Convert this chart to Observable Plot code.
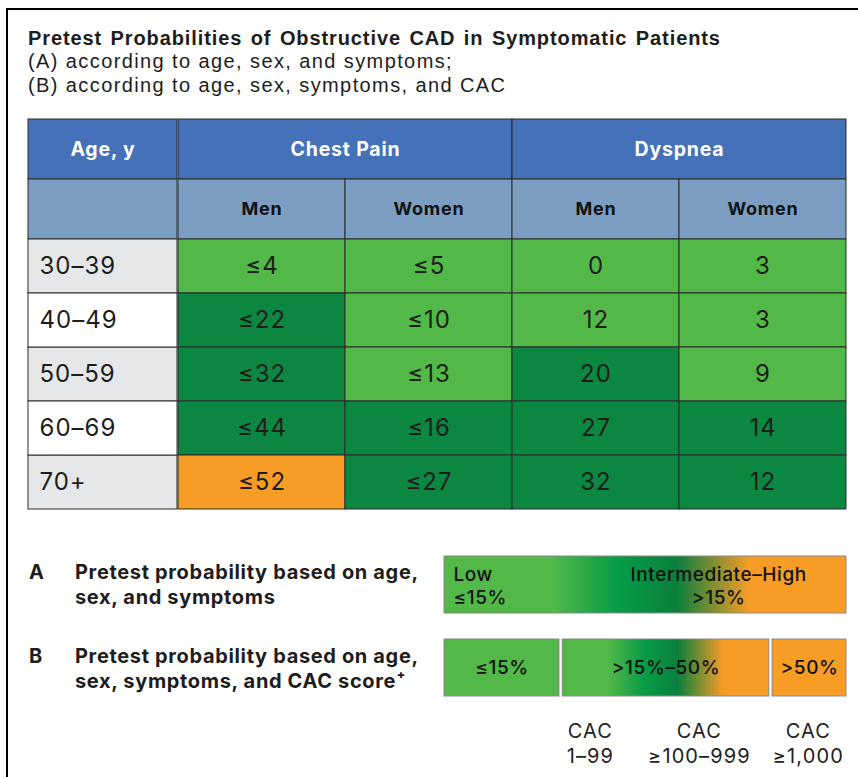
<!DOCTYPE html>
<html><head><meta charset="utf-8">
<script src="https://cdn.jsdelivr.net/npm/d3@7"></script>
<script src="https://cdn.jsdelivr.net/npm/@observablehq/plot@0.6"></script>
<style>
body{margin:0;background:#fff;}
#root{position:relative;width:858px;height:777px;overflow:hidden;background:#fff;color:#1d1d1b;font-family:Inter,sans-serif;}
.abs{position:absolute;}
#frame{left:6px;top:8px;width:860px;height:780px;border-left:2px solid #000;border-top:2px solid #000;}
#title{left:28px;top:26px;font:700 20px "Liberation Sans";letter-spacing:0.9px;word-spacing:2px;line-height:24px;white-space:nowrap;}
#subtitle{left:28px;top:49px;font:400 20px "Liberation Sans";letter-spacing:1.4px;line-height:24px;white-space:nowrap;}
.lg{font:700 20px Inter;letter-spacing:0.65px;line-height:25px;white-space:nowrap;}
svg{overflow:visible;}
</style></head><body><div id="root"></div>
<script>
// ---------- data ----------
const ages = ["30–39", "40–49", "50–59", "60–69", "70+"];
const groups = ["Chest Pain", "Dyspnea"];
const sexes = ["Men", "Women"];
const ageHeader = "Age, y";
const chestPainMen = [4, 22, 32, 44, 52];
const chestPainWomen = [5, 10, 13, 16, 27];
const dyspneaMen = [0, 12, 20, 27, 32];
const dyspneaWomen = [3, 3, 9, 14, 12];
const chestPainMenRisk = ["Low", "Intermediate", "Intermediate", "Intermediate", "High"];
const chestPainWomenRisk = ["Low", "Low", "Low", "Intermediate", "Intermediate"];
const dyspneaMenRisk = ["Low", "Low", "Intermediate", "Intermediate", "Intermediate"];
const dyspneaWomenRisk = ["Low", "Low", "Low", "Intermediate", "Intermediate"];
const groupPrefix = ["≤", ""];
const riskLevels = ["Low", "Intermediate", "High"];
const legendRows = ["A", "B"];
const legendRowTexts = ["Pretest probability based on age,<br>sex, and symptoms", "Pretest probability based on age,<br>sex, symptoms, and CAC score⁺"];
const legendALabels = ["Low\n≤15%", "Intermediate–High\n>15%"];
const legendBLabels = ["≤15%", ">15%–50%", ">50%"];
const cacLabels = ["CAC\n1–99", "CAC\n≥100–999", "CAC\n≥1,000"];

const titleText = "Pretest Probabilities of Obstructive CAD in Symptomatic Patients";
const subtitleLines = ["(A) according to age, sex, and symptoms;", "(B) according to age, sex, symptoms, and CAC"];

// ---------- style ----------
const BLUE = "#4571b8", LIGHTBLUE = "#7b9dc1", GREY = "#e6e7e8", WHITE = "#ffffff";
const LG = "#52b848", DG = "#0c8742", OR = "#f79d26", LINE = "#2b2b2b";
const FONT = "Inter, sans-serif";
const layout = {
  tableLeft: 28, ageWidth: 149, valWidth: 669, headTop: 119, headHeight: 120, bodyTop: 239, bodyHeight: 270,
  legendLeft: 444, legendTop: 556, legendWidth: 402, legendBarsHeight: 141,
  segB: [[0, 28.6], [29.4, 80.8], [81.6, 100]], labelAX: [0, 68.2], cacX: [36.3, 63.4, 90.5]
};

const series = [
  {group: groups[0], sex: sexes[0], values: chestPainMen, risk: chestPainMenRisk, prefix: groupPrefix[0]},
  {group: groups[0], sex: sexes[1], values: chestPainWomen, risk: chestPainWomenRisk, prefix: groupPrefix[0]},
  {group: groups[1], sex: sexes[0], values: dyspneaMen, risk: dyspneaMenRisk, prefix: groupPrefix[1]},
  {group: groups[1], sex: sexes[1], values: dyspneaWomen, risk: dyspneaWomenRisk, prefix: groupPrefix[1]}
];
const body = series.flatMap(s => s.values.map((v, i) => ({group: s.group, sex: s.sex, age: ages[i], risk: s.risk[i], label: s.prefix + v})));
const subHeads = series.map(s => ({group: s.group, sex: s.sex}));

const root = document.getElementById("root");
function place(el, left, top) { el.style.position = "absolute"; el.style.left = left + "px"; el.style.top = top + "px"; root.appendChild(el); return el; }
function div(cls, html, left, top) { const d = document.createElement("div"); d.className = "abs " + cls; d.innerHTML = html; return place(d, left, top); }

const frame = document.createElement("div"); frame.id = "frame"; frame.className = "abs"; root.appendChild(frame);
const t = document.createElement("div"); t.id = "title"; t.className = "abs"; t.textContent = titleText; root.appendChild(t);
const st = document.createElement("div"); st.id = "subtitle"; st.className = "abs"; st.innerHTML = subtitleLines.join("<br>"); root.appendChild(st);

const base = {margin: 0, style: {fontFamily: FONT, overflow: "visible", background: "transparent"}};
const headStyle = {...base.style, letterSpacing: "0.8px"};
const bodyStyle = {...base.style, letterSpacing: "1px"};

// Age header
place(Plot.plot({...base, style: headStyle, width: layout.ageWidth, height: layout.headHeight,
  y: {domain: ["h1", "h2"], axis: null, padding: 0},
  marks: [
    Plot.cell(["h1"], {y: d => d, fill: BLUE, stroke: LINE, strokeWidth: 1}),
    Plot.cell(["h2"], {y: d => d, fill: LIGHTBLUE, stroke: LINE, strokeWidth: 1}),
    Plot.text([ageHeader], {y: () => "h1", text: d => d, fill: "#fff", fontWeight: 700, fontSize: 19.5})
  ]}), layout.tableLeft, layout.headTop);

// Group header
place(Plot.plot({...base, style: headStyle, width: layout.valWidth, height: layout.headHeight,
  fx: {domain: groups, axis: null, padding: 0},
  x: {domain: sexes, axis: null, padding: 0},
  y: {domain: ["h1", "h2"], axis: null, padding: 0},
  marks: [
    Plot.cell(groups, {fx: d => d, y: () => "h1", fill: BLUE, stroke: LINE, strokeWidth: 1}),
    Plot.text(groups, {fx: d => d, y: () => "h1", text: d => d, fill: "#fff", fontWeight: 700, fontSize: 19.5}),
    Plot.cell(subHeads, {fx: "group", x: "sex", y: () => "h2", fill: LIGHTBLUE, stroke: LINE, strokeWidth: 1}),
    Plot.text(subHeads, {fx: "group", x: "sex", y: () => "h2", text: "sex", fill: "#111", fontWeight: 700, fontSize: 18})
  ]}), layout.tableLeft + layout.ageWidth, layout.headTop);

// Age body
place(Plot.plot({...base, style: bodyStyle, width: layout.ageWidth, height: layout.bodyHeight,
  y: {domain: ages, axis: null, padding: 0},
  marks: [
    Plot.cell(ages.filter((d, i) => i % 2 === 0), {y: d => d, fill: GREY, stroke: LINE, strokeWidth: 1}),
    Plot.cell(ages.filter((d, i) => i % 2 === 1), {y: d => d, fill: WHITE, stroke: LINE, strokeWidth: 1}),
    Plot.text(ages, {y: d => d, text: d => d, frameAnchor: "left", textAnchor: "start", dx: 11, fontSize: 24, fill: "#1d1d1b"})
  ]}), layout.tableLeft, layout.bodyTop);

// Values body
place(Plot.plot({...base, style: bodyStyle, width: layout.valWidth, height: layout.bodyHeight,
  fx: {domain: groups, axis: null, padding: 0},
  x: {domain: sexes, axis: null, padding: 0},
  y: {domain: ages, axis: null, padding: 0},
  color: {domain: riskLevels, range: [LG, DG, OR]},
  marks: [
    Plot.cell(body, {fx: "group", x: "sex", y: "age", fill: "risk", stroke: LINE, strokeWidth: 1}),
    Plot.text(body, {fx: "group", x: "sex", y: "age", text: "label", fontSize: 24, fill: "#1d1d1b"})
  ]}), layout.tableLeft + layout.ageWidth, layout.bodyTop);

// Legend texts (left)
div("lg", "A", 29, 560); div("lg", legendRowTexts[0], 75, 560);
div("lg", "B", 29, 644); div("lg", legendRowTexts[1], 75, 644);

// Legend bars
const bw = layout.legendBarsHeight;
const leg = Plot.plot({...base, style: {...base.style, letterSpacing: "0.6px"}, width: layout.legendWidth, height: bw + 80, marginBottom: 80,
  x: {domain: [0, 100], axis: null},
  y: {domain: legendRows, axis: null, paddingInner: 0.311, paddingOuter: 0},
  marks: [
    Plot.barX(["A"], {y: d => d, x1: 0, x2: 100, fill: "url(#gradA)", stroke: "#8a8a8a", strokeWidth: 1}),
    Plot.barX([legendBLabels[0]], {y: () => "B", x1: layout.segB[0][0], x2: layout.segB[0][1], fill: LG, stroke: "#8a8a8a", strokeWidth: 1}),
    Plot.barX([legendBLabels[1]], {y: () => "B", x1: layout.segB[1][0], x2: layout.segB[1][1], fill: "url(#gradB)", stroke: "#8a8a8a", strokeWidth: 1}),
    Plot.barX([legendBLabels[2]], {y: () => "B", x1: layout.segB[2][0], x2: layout.segB[2][1], fill: OR, stroke: "#8a8a8a", strokeWidth: 1}),
    Plot.text([legendALabels[0]], {y: () => "A", x: layout.labelAX[0], text: d => d, textAnchor: "start", dx: 9, fontSize: 19, fontWeight: 500, lineHeight: 1.24, fill: "#111"}),
    Plot.text([legendALabels[1]], {y: () => "A", x: layout.labelAX[1], text: d => d, fontSize: 19, fontWeight: 500, lineHeight: 1.24, fill: "#111"}),
    Plot.text(legendBLabels, {y: () => "B", x: (d, i) => (layout.segB[i][0] + layout.segB[i][1]) / 2, text: d => d, fontSize: 19, fontWeight: 500, fill: "#111"}),
    Plot.text(cacLabels, {y: () => "B", x: (d, i) => layout.cacX[i], text: d => d, lineAnchor: "top", dy: 52, fontSize: 20, lineHeight: 1.25, fill: "#222"})
  ]});
d3.select(leg).selectAll("g[aria-label=text]").filter((d, i, n) => i === n.length - 1).style("letter-spacing", "1.1px");
d3.select(leg).insert("defs", ":first-child").html(`
  <linearGradient id="gradA" x1="0" x2="1" y1="0" y2="0">
    <stop offset="0" stop-color="${LG}"/><stop offset="0.27" stop-color="${LG}"/>
    <stop offset="0.43" stop-color="#079c47"/><stop offset="0.58" stop-color="#0b7f3d"/>
    <stop offset="0.76" stop-color="${OR}"/><stop offset="1" stop-color="${OR}"/>
  </linearGradient>
  <linearGradient id="gradB" x1="0" x2="1" y1="0" y2="0">
    <stop offset="0" stop-color="${LG}"/><stop offset="0.22" stop-color="${LG}"/>
    <stop offset="0.40" stop-color="#079c47"/><stop offset="0.56" stop-color="#0b7f3d"/>
    <stop offset="0.78" stop-color="${OR}"/><stop offset="1" stop-color="${OR}"/>
  </linearGradient>`);
place(leg, layout.legendLeft, layout.legendTop);
</script></body></html>
